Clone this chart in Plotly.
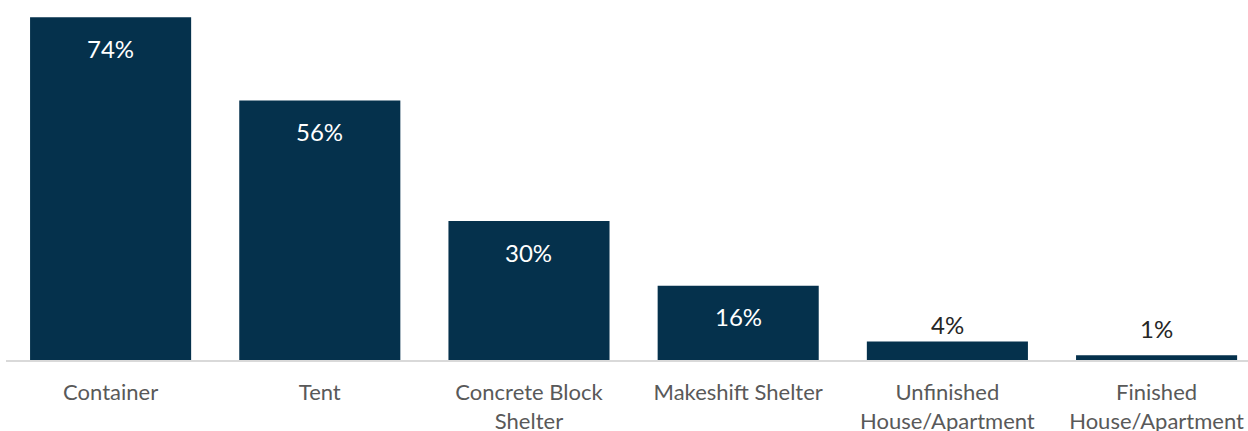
import plotly.graph_objects as go

categories = ["Container", "Tent", "Concrete Block<br>Shelter", "Makeshift Shelter",
              "Unfinished<br>House/Apartment", "Finished<br>House/Apartment"]
values = [74, 56, 30, 16, 4, 1]
labels = [f"{v}%" for v in values]

BAR = "#05314c"
GREY = "#595959"
FONT = "Lato, 'Open Sans', sans-serif"

fig = go.Figure(go.Bar(
    x=list(range(len(categories))), y=values,
    marker=dict(color=BAR, line=dict(width=0)),
    hoverinfo="skip",
))

# value labels: inside near the top for tall bars, just above for short ones
for i, (v, t) in enumerate(zip(values, labels)):
    if v >= 10:
        fig.add_annotation(x=i, y=v, text=t, showarrow=False, yanchor="middle",
                           yshift=-31, font=dict(color="white", size=24, family=FONT))
    else:
        fig.add_annotation(x=i, y=v, text=t, showarrow=False, yanchor="bottom",
                           yshift=0 if v > 2 else 10,
                           font=dict(color="#262626", size=24, family=FONT))

fig.update_layout(
    width=1248, height=431,
    margin=dict(l=6, r=0, t=0, b=71),
    plot_bgcolor="white", paper_bgcolor="white",
    bargap=0.23, showlegend=False,
    font=dict(family=FONT, color=GREY, size=22),
)
fig.update_xaxes(
    range=[-0.5, 5.437], tickmode="array", tickvals=list(range(len(categories))),
    ticktext=categories, showline=True, linecolor="#d9d9d9", linewidth=2,
    showgrid=False, zeroline=False, ticks="", ticklabelstandoff=12,
    automargin=False,
    tickfont=dict(size=22, color=GREY, family=FONT),
)
fig.update_yaxes(range=[0, 77.7], visible=False, showgrid=False, zeroline=False,
                 automargin=False)

fig.write_html("out.html")
